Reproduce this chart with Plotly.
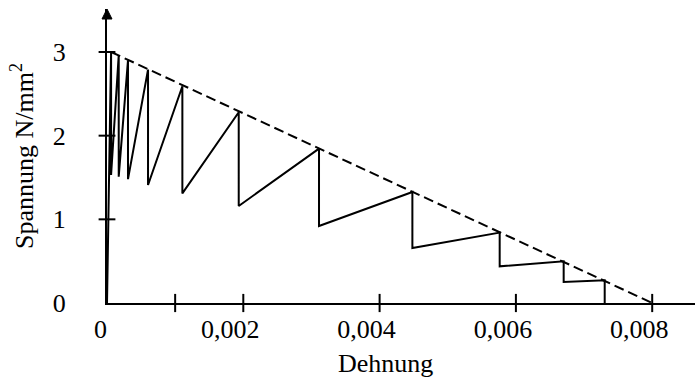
import plotly.graph_objects as go

# Sawtooth stress-strain record: each tooth rises to a peak on the
# softening envelope, then drops vertically at the same strain.
peak_strain = [0.00006, 0.000172, 0.000308, 0.000602, 0.001106, 0.001933,
               0.003111, 0.004481, 0.005762, 0.006701, 0.007303]
peak_stress = [3.0, 2.96, 2.90, 2.79, 2.59, 2.28, 1.845, 1.326, 0.841, 0.498, 0.271]
drop_stress = [1.53, 1.51, 1.48, 1.41, 1.31, 1.16, 0.92, 0.657, 0.438, 0.251, 0.0]

# Linear softening envelope (dashed)
envelope_strain = [0.00006, 0.008]
envelope_stress = [3.0, 0.0]

x_tick_vals = [0, 0.002, 0.004, 0.006, 0.008]
x_tick_text = ["\u20020", "0,002", "0,004", "0,006", "0,008"]
x_minor_ticks = [0.001, 0.002, 0.004, 0.006, 0.008]
y_tick_vals = [0, 1, 2, 3]
y_tick_text = ["0", "1", "2", "3"]
y_mark_ticks = [1, 2, 3]

# build the zig-zag path from the origin
xs, ys = [0.0], [0.0]
for xp, sp, sd in zip(peak_strain, peak_stress, drop_stress):
    xs += [xp, xp]
    ys += [sp, sd]

FONT = "Liberation Serif"
PLOT_W, PLOT_H = 588, 294
X_MAX = PLOT_W / 68150
Y_MAX = PLOT_H / 83.67
fig = go.Figure()

fig.add_trace(go.Scatter(x=envelope_strain, y=envelope_stress, mode="lines",
                         line=dict(color="black", width=2, dash="10px,5px"),
                         hoverinfo="skip"))
fig.add_trace(go.Scatter(x=xs, y=ys, mode="lines",
                         line=dict(color="black", width=2),
                         hoverinfo="skip"))

# tick marks crossing the axes
fig.add_trace(go.Scatter(x=x_minor_ticks, y=[0] * len(x_minor_ticks), mode="markers",
                         marker=dict(symbol="line-ns", size=13, color="black",
                                     line=dict(color="black", width=2)),
                         cliponaxis=False, hoverinfo="skip"))
fig.add_trace(go.Scatter(x=[0] * len(y_mark_ticks), y=y_mark_ticks, mode="markers",
                         marker=dict(symbol="line-ew", size=12, color="black",
                                     line=dict(color="black", width=2)),
                         cliponaxis=False, hoverinfo="skip"))

# arrow head on top of the stress axis
fig.add_trace(go.Scatter(x=[0], y=[Y_MAX], mode="markers",
                         marker=dict(symbol="arrow-up", size=10, color="black",
                                     line=dict(color="black", width=1)),
                         cliponaxis=False, hoverinfo="skip"))

fig.update_layout(
    width=695, height=381,
    margin=dict(l=107, r=0, t=9, b=78),
    paper_bgcolor="white", plot_bgcolor="white",
    showlegend=False,
    font=dict(family=FONT, size=26, color="black"),
    xaxis=dict(range=[0, X_MAX], showgrid=False, zeroline=False,
               showline=True, linecolor="black", linewidth=2,
               ticks="", tickvals=x_tick_vals, ticktext=x_tick_text,
               ticklabelshift=-13, ticklabelstandoff=2,
               tickfont=dict(family=FONT, size=26)),
    yaxis=dict(range=[0, Y_MAX], showgrid=False, zeroline=False,
               showline=True, linecolor="black", linewidth=2,
               ticks="", tickvals=y_tick_vals, ticktext=y_tick_text,
               ticklabelstandoff=34,
               tickfont=dict(family=FONT, size=26),
               title=dict(text="Spannung N/mm<sup>2</sup>", standoff=12,
                          font=dict(family=FONT, size=26))),
)

fig.add_annotation(text="Dehnung", xref="paper", yref="paper",
                   x=(385 - 107) / PLOT_W, y=(303 - 364) / PLOT_H,
                   xanchor="center", yanchor="middle", showarrow=False,
                   font=dict(family=FONT, size=26))

fig.write_html("out.html")
